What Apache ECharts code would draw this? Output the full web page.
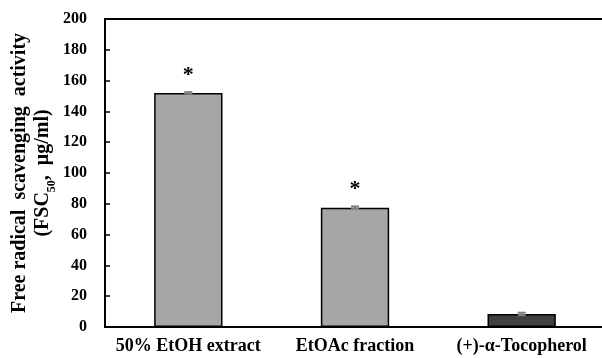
<!DOCTYPE html>
<html><head><meta charset="utf-8">
<script src="https://cdn.jsdelivr.net/npm/echarts@6/dist/echarts.min.js"></script>
<style>html,body{margin:0;padding:0;background:#fff}#c{width:602px;height:358px}</style>
</head><body><div id="c"></div>
<script>
var categories = ['50% EtOH extract', 'EtOAc fraction', '(+)-\u03b1-Tocopherol'];
var values = [152, 77.5, 8.5];
var errors = [0.5, 0.8, 0.8];
var significance = ['*', '*', ''];
var barColors = ['#a6a6a6', '#a6a6a6', '#404040'];
var yTicks = [0, 20, 40, 60, 80, 100, 120, 140, 160, 180, 200];

var font = 'Liberation Serif, Times New Roman, serif';
var chart = echarts.init(document.getElementById('c'));
chart.setOption({
  animation: false,
  grid: { left: 105, top: 19, width: 500, height: 308, show: true, borderColor: '#000', borderWidth: 2,
          containLabel: false, outerBoundsMode: 'none' },
  xAxis: {
    type: 'category', data: categories,
    axisLine: { lineStyle: { color: '#000', width: 2 } },
    axisTick: { inside: true, length: 6, lineStyle: { color: '#000', width: 1.5 } },
    axisLabel: { interval: 0, color: '#000', fontFamily: font, fontWeight: 'bold', fontSize: 18, margin: 10 }
  },
  yAxis: {
    type: 'value', min: yTicks[0], max: yTicks[yTicks.length - 1], interval: yTicks[1] - yTicks[0],
    splitLine: { show: false },
    axisLine: { show: true, lineStyle: { color: '#000', width: 2 } },
    axisTick: { show: true, inside: true, length: 5, lineStyle: { color: '#000', width: 1.5 } },
    axisLabel: { color: '#000', fontFamily: font, fontWeight: 'bold', fontSize: 16, margin: 18 },
    name: '{a|Free radical  scavenging  activity}\n{a|(FSC}{s|50}{a|,  \u03bcg/ml)}',
    nameLocation: 'middle', nameRotate: 90, nameGap: 51, nameMoveOverlap: false,
    nameTextStyle: {
      rich: {
        a: { fontFamily: font, fontWeight: 'bold', fontSize: 20, color: '#000', lineHeight: 23 },
        s: { fontFamily: font, fontWeight: 'bold', fontSize: 12, color: '#000', lineHeight: 23, verticalAlign: 'bottom', padding: [0, 0, -4, 0] }
      }
    }
  },
  series: [{
    type: 'bar', barWidth: '41%',
    data: values.map(function (v, i) {
      return {
        value: v,
        itemStyle: { color: barColors[i], borderColor: '#000', borderWidth: 1.5 },
        label: { show: !!significance[i], formatter: significance[i], position: 'top', distance: 7,
                 color: '#000', fontSize: 22, fontWeight: 'bold', fontFamily: font }
      };
    })
  }, {
    type: 'custom', z: 10,
    data: values.map(function (v, i) { return [i, v - errors[i], v + errors[i]]; }),
    renderItem: function (params, api) {
      var lo = api.coord([api.value(0), api.value(1)]);
      var hi = api.coord([api.value(0), api.value(2)]);
      var w = 4;
      var st = { stroke: '#808080', lineWidth: 2 };
      return { type: 'group', children: [
        { type: 'line', shape: { x1: lo[0], y1: lo[1], x2: hi[0], y2: hi[1] }, style: st },
        { type: 'line', shape: { x1: hi[0] - w, y1: hi[1], x2: hi[0] + w, y2: hi[1] }, style: st },
        { type: 'line', shape: { x1: lo[0] - w, y1: lo[1], x2: lo[0] + w, y2: lo[1] }, style: st }
      ]};
    }
  }]
});
</script></body></html>
